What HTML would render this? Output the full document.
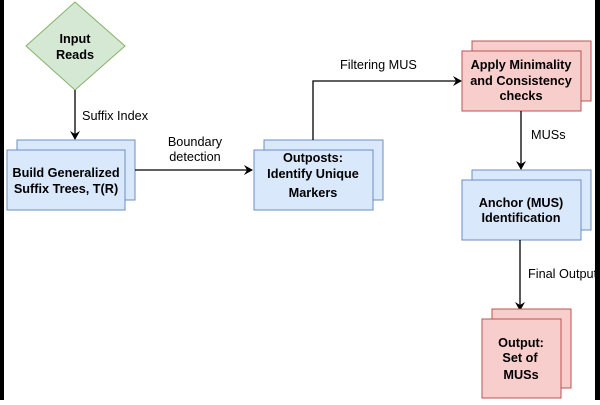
<!DOCTYPE html>
<html><head><style>html,body{margin:0;padding:0;background:#fff}</style></head><body>
<svg width="600" height="400" xmlns="http://www.w3.org/2000/svg" font-family="Liberation Sans, sans-serif" font-size="12.7">
<rect x="0" y="0" width="600" height="400" fill="#fff"/>
<rect x="0" y="0" width="4" height="400" fill="#000"/>
<rect x="595" y="0" width="5" height="400" fill="#000"/>
<defs><marker id="a" markerWidth="10" markerHeight="10" refX="8" refY="5" orient="auto" markerUnits="userSpaceOnUse"><path d="M0,0 L9,5 L0,10 L3,5 Z" fill="#000"/></marker></defs>
<polygon points="75,2 125,46 75,90 26,46" fill="#d5e8d4" stroke="#82b366"/>
<text x="75" y="43" text-anchor="middle" font-weight="bold">Input</text>
<text x="75" y="59" text-anchor="middle" font-weight="bold">Reads</text>
<line x1="75" y1="90" x2="75" y2="139" stroke="#000" stroke-width="1.3" marker-end="url(#a)"/>
<text x="82" y="120">Suffix Index</text>
<rect x="17" y="140" width="118" height="60" fill="#dae8fc" stroke="#6c8ebf"/>
<rect x="7" y="150" width="118" height="60" fill="#dae8fc" stroke="#6c8ebf"/>
<text x="66" y="177" text-anchor="middle" font-weight="bold">Build Generalized</text>
<text x="66" y="193" text-anchor="middle" font-weight="bold">Suffix Trees, T(R)</text>
<line x1="135" y1="170" x2="252" y2="170" stroke="#000" stroke-width="1.3" marker-end="url(#a)"/>
<text x="195" y="146" text-anchor="middle">Boundary</text>
<text x="195" y="161" text-anchor="middle">detection</text>
<rect x="264" y="140" width="119" height="60" fill="#dae8fc" stroke="#6c8ebf"/>
<rect x="254" y="150" width="119" height="60" fill="#dae8fc" stroke="#6c8ebf"/>
<text x="313" y="162" text-anchor="middle" font-weight="bold">Outposts:</text>
<text x="313" y="178" text-anchor="middle" font-weight="bold">Identify Unique</text>
<text x="313" y="197" text-anchor="middle" font-weight="bold">Markers</text>
<polyline points="313,140 313,81 461,81" fill="none" stroke="#000" stroke-width="1.3" marker-end="url(#a)"/>
<text x="340" y="69">Filtering MUS</text>
<rect x="472" y="41" width="119" height="60" fill="#f8cecc" stroke="#b85450"/>
<rect x="462" y="51" width="119" height="60" fill="#f8cecc" stroke="#b85450"/>
<text x="521" y="69" text-anchor="middle" font-weight="bold">Apply Minimality</text>
<text x="521" y="85" text-anchor="middle" font-weight="bold">and Consistency</text>
<text x="521" y="100" text-anchor="middle" font-weight="bold">checks</text>
<line x1="521" y1="111" x2="521" y2="169" stroke="#000" stroke-width="1.3" marker-end="url(#a)"/>
<text x="531" y="139">MUSs</text>
<rect x="472" y="170" width="119" height="60" fill="#dae8fc" stroke="#6c8ebf"/>
<rect x="462" y="180" width="119" height="60" fill="#dae8fc" stroke="#6c8ebf"/>
<text x="521" y="207" text-anchor="middle" font-weight="bold">Anchor (MUS)</text>
<text x="521" y="222" text-anchor="middle" font-weight="bold">Identification</text>
<line x1="520" y1="240" x2="520" y2="310" stroke="#000" stroke-width="1.3" marker-end="url(#a)"/>
<text x="528" y="278">Final Output</text>
<rect x="492" y="309" width="79" height="79" fill="#f8cecc" stroke="#b85450"/>
<rect x="482" y="319" width="79" height="79" fill="#f8cecc" stroke="#b85450"/>
<text x="521" y="347" text-anchor="middle" font-weight="bold">Output:</text>
<text x="520" y="362" text-anchor="middle" font-weight="bold">Set of</text>
<text x="521" y="379" text-anchor="middle" font-weight="bold">MUSs</text>
</svg>
</body></html>
